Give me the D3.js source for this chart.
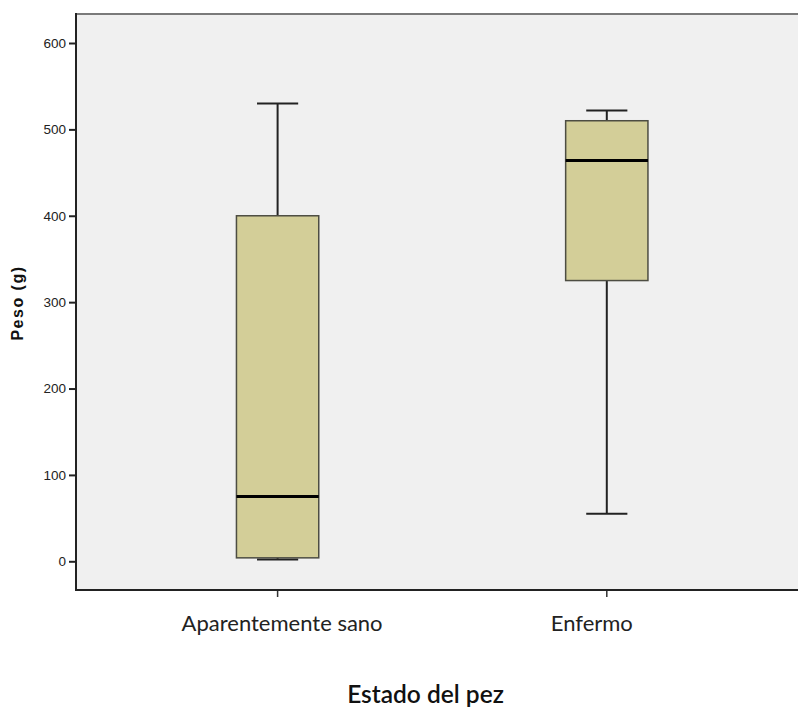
<!DOCTYPE html>
<html>
<head>
<meta charset="utf-8">
<script src="https://cdn.jsdelivr.net/npm/d3@7"></script>
<style>
  html, body { margin: 0; padding: 0; background: #ffffff; }
  svg { display: block; }
</style>
</head>
<body>
<svg id="chart" width="798" height="711"></svg>
<script>
// Box plot summaries of fish weight by health status
const categories = ["Aparentemente sano", "Enfermo"];
const whiskerLow = [2, 55];
const q1 = [4, 325];
const median = [75, 464];
const q3 = [400, 510];
const whiskerHigh = [530, 522];
const yTicks = [0, 100, 200, 300, 400, 500, 600];

const svg = d3.select("#chart");
const plot = { left: 76, top: 14, right: 800, bottom: 590 };

const y = d3.scaleLinear().domain([0, 600]).range([561.3, 43]);
const x = d3.scaleBand().domain(categories).range([113, 771.4]).paddingInner(0).paddingOuter(0);
const boxW = x.bandwidth() * 0.25;
const capW = boxW * 0.5;
// horizontal nudge of each category label relative to its tick
const labelShift = { "Aparentemente sano": 4.5, "Enfermo": -15 };

// plot background
svg.append("rect")
  .attr("x", plot.left).attr("y", plot.top)
  .attr("width", plot.right - plot.left).attr("height", plot.bottom - plot.top)
  .attr("fill", "#f0f0f0");

// top frame line
svg.append("line")
  .attr("x1", plot.left).attr("x2", plot.right)
  .attr("y1", plot.top).attr("y2", plot.top)
  .attr("stroke", "#7a7a7a").attr("stroke-width", 2);

// y axis
const yAxis = d3.axisLeft(y).tickValues(yTicks).tickSize(7).tickPadding(3).tickFormat(d3.format("d"));
const gy = svg.append("g").attr("transform", `translate(${plot.left},0)`).call(yAxis);
gy.select(".domain").remove();
gy.selectAll(".tick line").attr("stroke", "#222").attr("stroke-width", 2);
gy.selectAll(".tick text")
  .attr("font-family", "'Liberation Sans', Arial, sans-serif")
  .attr("font-size", 13.5).attr("fill", "#222");
svg.append("line")
  .attr("x1", plot.left).attr("x2", plot.left)
  .attr("y1", plot.top - 1).attr("y2", plot.bottom + 1)
  .attr("stroke", "#222").attr("stroke-width", 2);

// x axis
const xAxis = d3.axisBottom(x).tickSize(7);
const gx = svg.append("g").attr("transform", `translate(0,${plot.bottom})`).call(xAxis);
gx.select(".domain").remove();
gx.selectAll(".tick line").attr("stroke", "#333").attr("stroke-width", 1.5);
gx.selectAll(".tick text")
  .attr("y", 41).attr("dy", 0)
  .attr("dx", d => labelShift[d])
  .attr("font-family", "Lato, 'Open Sans', sans-serif")
  .attr("font-size", 22).attr("fill", "#222");
svg.append("line")
  .attr("x1", plot.left - 1).attr("x2", plot.right)
  .attr("y1", plot.bottom).attr("y2", plot.bottom)
  .attr("stroke", "#222").attr("stroke-width", 2);

// boxes
const data = categories.map((c, i) => ({
  c, lo: whiskerLow[i], q1: q1[i], med: median[i], q3: q3[i], hi: whiskerHigh[i]
}));
const g = svg.append("g").selectAll("g").data(data).join("g")
  .attr("transform", d => `translate(${x(d.c) + x.bandwidth() / 2},0)`);

// whisker stems
g.append("line").attr("x1", 0).attr("x2", 0)
  .attr("y1", d => y(d.hi)).attr("y2", d => y(d.q3))
  .attr("stroke", "#222").attr("stroke-width", 2);
g.append("line").attr("x1", 0).attr("x2", 0)
  .attr("y1", d => y(d.q1)).attr("y2", d => y(d.lo))
  .attr("stroke", "#222").attr("stroke-width", 2);
// caps
g.append("line").attr("x1", -capW / 2).attr("x2", capW / 2)
  .attr("y1", d => y(d.hi)).attr("y2", d => y(d.hi))
  .attr("stroke", "#222").attr("stroke-width", 2);
g.append("line").attr("x1", -capW / 2).attr("x2", capW / 2)
  .attr("y1", d => y(d.lo)).attr("y2", d => y(d.lo))
  .attr("stroke", "#222").attr("stroke-width", 2);
// box
g.append("rect")
  .attr("x", -boxW / 2).attr("width", boxW)
  .attr("y", d => y(d.q3)).attr("height", d => y(d.q1) - y(d.q3))
  .attr("fill", "#d3ce98").attr("stroke", "#4d4d42").attr("stroke-width", 1.5);
// median
g.append("line").attr("x1", -boxW / 2).attr("x2", boxW / 2)
  .attr("y1", d => y(d.med)).attr("y2", d => y(d.med))
  .attr("stroke", "#000").attr("stroke-width", 3);

// axis titles
svg.append("text")
  .attr("transform", "translate(23,303) rotate(-90)")
  .attr("text-anchor", "middle")
  .attr("font-family", "'Liberation Sans', Arial, sans-serif")
  .attr("font-weight", "bold").attr("font-size", 16).attr("letter-spacing", 1.5)
  .attr("fill", "#111")
  .text("Peso (g)");

svg.append("text")
  .attr("x", 425.5).attr("y", 703)
  .attr("text-anchor", "middle")
  .attr("font-family", "Lato, 'Open Sans', sans-serif")
  .attr("font-weight", 600).attr("font-size", 24.5).attr("fill", "#111")
  .text("Estado del pez");
</script>
</body>
</html>
